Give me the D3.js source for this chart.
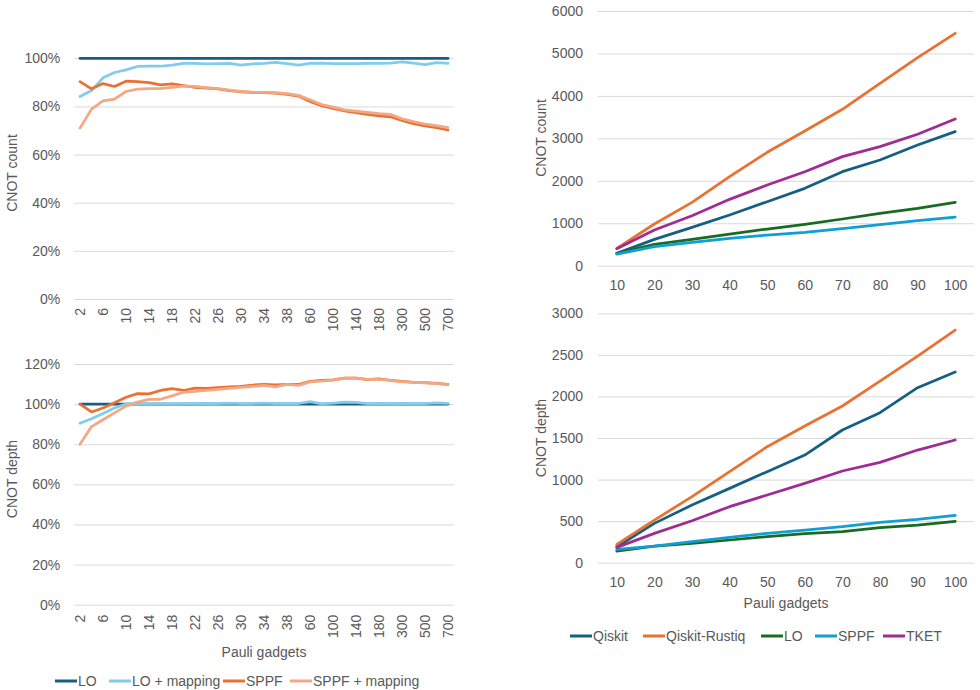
<!DOCTYPE html>
<html>
<head>
<meta charset="utf-8">
<script src="https://cdn.jsdelivr.net/npm/d3@7"></script>
<style>
  body { margin: 0; background: #fff; }
  svg text { font-family: "Liberation Sans", Arial, sans-serif; fill: #595959; }
</style>
</head>
<body>
<svg id="chart" width="980" height="690"></svg>
<script>
// ---- left charts: ratios (percent) per number of Pauli gadgets ----
const catsL = [2, 4, 6, 8, 10, 12, 14, 16, 18, 20, 22, 24, 26, 28, 30, 32, 34, 36, 38, 40,
  60, 80, 100, 120, 140, 160, 180, 200, 300, 400, 500, 600, 700];
const tickLabelsL = [2, 6, 10, 14, 18, 22, 26, 30, 34, 38, 60, 100, 140, 180, 300, 500, 700];
const seriesL = ['LO', 'LO + mapping', 'SPPF', 'SPPF + mapping'];

const countLO = [100, 100, 100, 100, 100, 100, 100, 100, 100, 100, 100, 100, 100, 100, 100, 100, 100,
  100, 100, 100, 100, 100, 100, 100, 100, 100, 100, 100, 100, 100, 100, 100, 100];
const countLOmap = [84.1, 86.6, 91.9, 94.1, 95.2, 96.6, 96.8, 96.7, 97.2, 97.9, 97.9, 97.7, 97.8, 97.9, 97.2, 97.7, 97.9,
  98.3, 97.8, 97.2, 97.9, 98.0, 97.8, 97.8, 97.8, 97.9, 97.9, 98.0, 98.5, 98.0, 97.4, 98.2, 97.9];
const countSPPF = [90.3, 87.3, 89.5, 88.3, 90.5, 90.3, 89.9, 89.0, 89.4, 88.7, 87.9, 87.6, 87.3, 86.6, 86.1, 85.8, 85.7,
  85.5, 85.0, 84.3, 82.1, 80.3, 79.2, 78.1, 77.4, 76.7, 76.1, 75.7, 74.2, 72.8, 71.9, 71.2, 70.2];
const countSPPFmap = [71.0, 78.9, 82.3, 83.0, 86.2, 87.2, 87.4, 87.4, 87.9, 88.4, 88.3, 87.8, 87.4, 86.8, 86.3, 85.9, 85.8,
  85.7, 85.3, 84.6, 82.8, 80.8, 79.7, 78.6, 78.1, 77.5, 77.0, 76.7, 74.9, 73.7, 72.7, 72.0, 71.2];

const depthLO = [100, 100, 100, 100, 100, 100, 100, 100, 100, 100, 100, 100, 100, 100, 100, 100, 100,
  100, 100, 100, 100, 100, 100, 100, 100, 100, 100, 100, 100, 100, 100, 100, 100];
const depthLOmap = [90.5, 92.7, 95.3, 98.1, 100, 100.2, 100.1, 100.2, 100.1, 100.2, 100.3, 100.4, 100.2, 100.5, 100.3, 100.3, 100.5,
  100.3, 100.2, 100.3, 101.2, 100.1, 100.5, 101.0, 100.9, 100.3, 100.4, 100.2, 100.4, 100.3, 100.2, 100.6, 100.4];
const depthSPPF = [100, 96.1, 98.1, 100.7, 103.4, 105.2, 105.1, 106.8, 107.7, 106.8, 108.0, 107.8, 108.2, 108.6, 108.8, 109.5, 109.8,
  109.6, 109.9, 109.8, 111.4, 111.8, 112.1, 113.0, 113.0, 112.2, 112.6, 111.9, 111.3, 110.9, 110.7, 110.3, 109.8];
const depthSPPFmap = [80, 88.8, 92.2, 95.6, 99.0, 101.0, 102.4, 102.4, 104.1, 105.9, 106.3, 106.9, 107.3, 107.8, 108.3, 108.8, 109.3,
  108.6, 109.8, 109.3, 111.1, 111.5, 112.0, 113.0, 113.0, 112.3, 112.4, 111.7, 111.1, 110.8, 110.6, 110.2, 109.7];

// ---- right charts: absolute values ----
const catsR = [10, 20, 30, 40, 50, 60, 70, 80, 90, 100];
const seriesR = ['Qiskit', 'Qiskit-Rustiq', 'LO', 'SPPF', 'TKET'];

const countQiskit = [290, 620, 903, 1194, 1508, 1822, 2215, 2490, 2844, 3158];
const countRustiq = [408, 982, 1493, 2097, 2671, 3174, 3684, 4297, 4902, 5475];
const countLOr = [290, 503, 620, 746, 864, 974, 1100, 1233, 1351, 1493];
const countSPPFr = [275, 448, 550, 644, 723, 786, 872, 966, 1060, 1147];
const countTKET = [400, 840, 1178, 1563, 1901, 2215, 2569, 2804, 3095, 3456];

const depthQiskit = [192, 473, 694, 894, 1095, 1295, 1596, 1805, 2105, 2294];
const depthRustiq = [220, 513, 794, 1095, 1395, 1644, 1885, 2185, 2486, 2799];
const depthLOr = [140, 200, 233, 273, 313, 349, 373, 421, 453, 497];
const depthSPPFr = [160, 200, 253, 305, 353, 393, 433, 485, 521, 569];
const depthTKET = [184, 353, 505, 674, 814, 954, 1103, 1207, 1355, 1476];

const colorsL = ['#156082', '#83cbeb', '#e97132', '#f2a883'];
const colorsR = ['#156082', '#e97132', '#196b24', '#0f9ed5', '#a02b93'];

const svg = d3.select('#chart');

function drawPanel(opts) {
  const g = svg.append('g');
  const x = d3.scalePoint().domain(opts.cats).range([opts.x0, opts.x1]).padding(0.5);
  const y = d3.scaleLinear().domain(opts.yDomain).range([opts.y0, opts.y1]);

  // gridlines + y labels
  const yAxis = d3.axisLeft(y)
    .tickValues(opts.yTicks)
    .tickSize(-(opts.x1 - opts.x0))
    .tickPadding(opts.yPad)
    .tickFormat(opts.yFormat);
  const ya = g.append('g').attr('transform', `translate(${opts.x0},0)`).call(yAxis);
  ya.select('.domain').remove();
  ya.selectAll('line').attr('stroke', '#d9d9d9').attr('stroke-width', 1);
  ya.selectAll('text').style('font-size', '14px').attr('fill', '#595959');

  // x labels
  const xAxis = d3.axisBottom(x).tickSize(0).tickValues(opts.xTicks || opts.cats);
  const xa = g.append('g').attr('transform', `translate(0,${opts.y0})`).call(xAxis);
  xa.select('.domain').remove();
  const xt = xa.selectAll('text').style('font-size', '14px').attr('fill', '#595959');
  if (opts.rotate) {
    xt.attr('transform', 'rotate(-90)')
      .attr('text-anchor', 'end')
      .attr('x', -opts.xPad)
      .attr('y', 0)
      .attr('dy', '0.35em');
  } else {
    xt.attr('y', opts.xPad).attr('dy', '0.35em');
  }

  const line = d3.line()
    .x((d, i) => x(opts.cats[i]))
    .y(d => y(d));

  opts.series.forEach((vals, i) => {
    g.append('path')
      .datum(vals)
      .attr('d', line)
      .attr('fill', 'none')
      .attr('stroke', opts.colors[i])
      .attr('stroke-width', 2.75)
      .attr('stroke-linejoin', 'round')
      .attr('stroke-linecap', 'round');
  });

  g.append('text')
    .attr('transform', `translate(${opts.titleX},${opts.titleY}) rotate(-90)`)
    .attr('text-anchor', 'middle')
    .attr('dy', '0.35em')
    .style('font-size', '14px')
    .text(opts.yTitle);

  if (opts.xTitle) {
    g.append('text')
      .attr('x', opts.xTitleX).attr('y', opts.xTitleY)
      .attr('text-anchor', 'middle')
      .attr('dy', '0.35em')
      .style('font-size', '14px')
      .text(opts.xTitle);
  }
}

function drawLegend(names, colors, positions, yPos) {
  const lg = svg.append('g');
  names.forEach((n, i) => {
    const p = positions[i];
    lg.append('line')
      .attr('x1', p).attr('x2', p + 22)
      .attr('y1', yPos).attr('y2', yPos)
      .attr('stroke', colors[i]).attr('stroke-width', 3);
    lg.append('text')
      .attr('x', p + 23).attr('y', yPos)
      .attr('dy', '0.35em')
      .style('font-size', '14px')
      .text(n);
  });
}

const pct = d => d + '%';

// top left
drawPanel({
  cats: catsL, xTicks: tickLabelsL, x0: 74.25, x1: 453.75,
  yDomain: [0, 100], y0: 299, y1: 58.3, yTicks: [0, 20, 40, 60, 80, 100], yFormat: pct, yPad: 14,
  rotate: true, xPad: 9,
  series: [countLO, countLOmap, countSPPF, countSPPFmap], colors: colorsL,
  yTitle: 'CNOT count', titleX: 12, titleY: 173
});

// bottom left
drawPanel({
  cats: catsL, xTicks: tickLabelsL, x0: 74.25, x1: 453.75,
  yDomain: [0, 120], y0: 604.7, y1: 364, yTicks: [0, 20, 40, 60, 80, 100, 120], yFormat: pct, yPad: 14,
  rotate: true, xPad: 10,
  series: [depthLO, depthLOmap, depthSPPF, depthSPPFmap], colors: colorsL,
  yTitle: 'CNOT depth', titleX: 12, titleY: 479,
  xTitle: 'Pauli gadgets', xTitleX: 264, xTitleY: 652
});

// top right
drawPanel({
  cats: catsR, x0: 598, x1: 974,
  yDomain: [0, 6000], y0: 265.7, y1: 11, yTicks: [0, 1000, 2000, 3000, 4000, 5000, 6000], yFormat: d3.format('d'), yPad: 15,
  rotate: false, xPad: 19,
  series: [countQiskit, countRustiq, countLOr, countSPPFr, countTKET], colors: colorsR,
  yTitle: 'CNOT count', titleX: 541, titleY: 138
});

// bottom right
drawPanel({
  cats: catsR, x0: 598, x1: 974,
  yDomain: [0, 3000], y0: 562.7, y1: 313.3, yTicks: [0, 500, 1000, 1500, 2000, 2500, 3000], yFormat: d3.format('d'), yPad: 15,
  rotate: false, xPad: 19,
  series: [depthQiskit, depthRustiq, depthLOr, depthSPPFr, depthTKET], colors: colorsR,
  yTitle: 'CNOT depth', titleX: 541, titleY: 438,
  xTitle: 'Pauli gadgets', xTitleX: 786, xTitleY: 603
});

drawLegend(seriesL, colorsL, [55, 109, 223, 290], 681);
drawLegend(seriesR, colorsR, [570, 643, 761, 815, 883], 636);
</script>
</body>
</html>
